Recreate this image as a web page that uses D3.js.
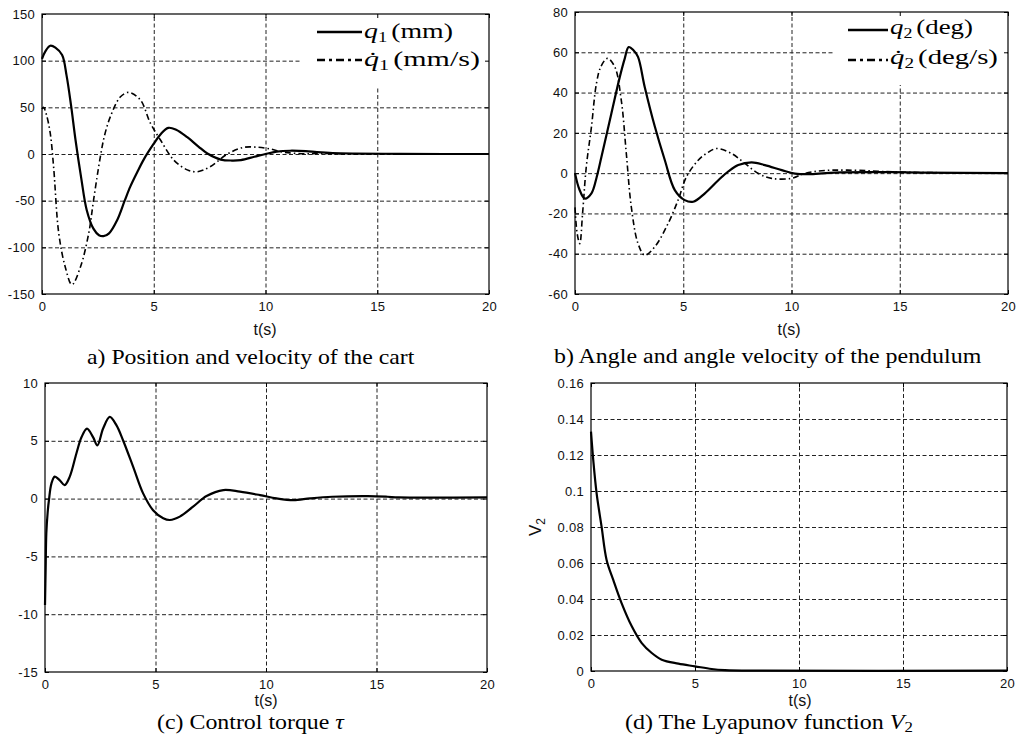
<!DOCTYPE html>
<html>
<head>
<meta charset="utf-8">
<script src="https://cdn.jsdelivr.net/npm/d3@7"></script>
<style>
  body { margin: 0; background: #fff; }
  svg { display: block; }
  .tick text { font-family: "Liberation Sans", Arial, Helvetica, sans-serif; font-size: 13px; fill: #111; letter-spacing: 0.3px; }
  .serif { font-family: "Liberation Serif", "Times New Roman", serif; fill: #000; }
  .sans { font-family: "Liberation Sans", Arial, Helvetica, sans-serif; fill: #111; }
</style>
</head>
<body>
<svg id="fig" width="1025" height="737"></svg>
<script>
// ---- data ----

// a) cart position q1 (mm)
const q1T = [0, 0.15, 0.37, 0.6, 0.9, 1.1, 1.3, 1.5, 1.75, 2.0, 2.3, 2.55, 2.75, 3.0, 3.36, 3.7, 3.95, 4.25, 4.55, 5.0, 5.3, 5.65, 6.0, 6.5, 7.0, 7.4, 8.0, 8.5, 8.9, 9.5, 10.0, 10.5, 11.1, 11.8, 12.3, 13, 14, 16, 18, 20];
const q1V = [102, 110, 116, 114, 106, 84, 52, 15, -25, -60, -80, -87, -88, -85, -71, -50, -35, -20, -6, 11, 21, 28, 26, 18, 8, 0.5, -6, -7, -6.5, -3, 0, 2.5, 3.5, 3, 2, 1, 0.5, 0.2, 0, 0];
// a) cart velocity dq1 (mm/s)
const dq1T = [0, 0.07, 0.2, 0.37, 0.52, 0.75, 1.04, 1.34, 1.72, 2.09, 2.31, 2.61, 2.8, 3.06, 3.5, 3.88, 4.4, 4.85, 5.3, 5.9, 6.5, 6.94, 7.5, 8.3, 9.0, 9.6, 10.2, 10.8, 11.6, 12.5, 14, 17, 20];
const dq1V = [48, 50, 42, 22, -14, -85, -121, -140, -121, -85, -49, -3, 20, 40, 61, 66, 58, 33, 15, -6.6, -17, -19, -14, 0, 7, 7.3, 5.5, 2, 0.3, 0.5, 0, 0, 0];

// b) pendulum angle q2 (deg)
const q2T = [0, 0.2, 0.45, 0.76, 1.0, 1.22, 1.68, 2.07, 2.3, 2.48, 2.7, 2.91, 3.22, 3.69, 4.15, 4.61, 5.07, 5.46, 6.0, 6.62, 7.1, 7.54, 8.16, 8.77, 9.55, 10.16, 10.9, 12, 14, 16, 20];
const q2V = [0, -8, -12.6, -10, -2, 8, 29.6, 47.8, 57, 62.6, 61, 57.7, 42.8, 23, 6.4, -8.4, -13.4, -14.2, -10, -3.5, 1, 4, 5.3, 4, 1.5, -0.2, -0.5, 0.3, 0.5, 0.3, 0];
// b) pendulum angle velocity dq2 (deg/s)
const dq2T = [0, 0.1, 0.22, 0.35, 0.52, 0.76, 0.99, 1.2, 1.5, 1.84, 2.14, 2.37, 2.6, 2.91, 3.22, 3.69, 4.3, 4.76, 5.15, 5.69, 6.1, 6.54, 7.23, 7.85, 8.47, 9.08, 10.0, 10.6, 11.4, 12.6, 15, 17, 20];
const dq2V = [-17, -30, -35, -20, 3, 23, 44.5, 53, 57, 52.7, 36, 9.8, -16.7, -34.9, -40.7, -36.5, -25, -13.4, -1.8, 6.4, 10, 12.2, 9.75, 4.8, -0.2, -2.6, -2.6, -0.2, 1.2, 1.5, 0.5, 0.2, 0];

// c) control torque tau
const tauT = [0, 0.03, 0.06, 0.12, 0.18, 0.29, 0.44, 0.66, 0.89, 1.12, 1.42, 1.65, 1.9, 2.18, 2.37, 2.63, 2.93, 3.23, 3.53, 3.99, 4.44, 4.89, 5.35, 5.65, 6.1, 6.7, 7.31, 8.07, 8.82, 9.73, 10.48, 11.24, 12, 13, 14.6, 15.5, 16, 20];
const tauV = [-9.2, -6, -3, -1.2, -0.1, 1.3, 1.9, 1.6, 1.17, 1.9, 3.9, 5.3, 6.06, 5.3, 4.6, 6.06, 7.07, 6.35, 5.05, 2.75, 0.45, -1, -1.7, -1.85, -1.56, -0.7, 0.22, 0.74, 0.6, 0.3, 0.02, -0.13, 0.02, 0.16, 0.22, 0.16, 0.1, 0.1];

// d) Lyapunov function V2
const v2T = [0, 0.11, 0.27, 0.51, 0.75, 1.07, 1.47, 1.96, 2.44, 2.92, 3.4, 4.2, 5.0, 5.8, 6.44, 8, 20];
const v2V = [0.133, 0.117, 0.0987, 0.0801, 0.0617, 0.0506, 0.0377, 0.0248, 0.0155, 0.0100, 0.0063, 0.0041, 0.0026, 0.0011, 0.0005, 0.0002, 0.0002];

// tick values
const timeTicks = [0, 5, 10, 15, 20];
const yTicksA = [-150, -100, -50, 0, 50, 100, 150];
const yTicksB = [-60, -40, -20, 0, 20, 40, 60, 80];
const yTicksC = [-15, -10, -5, 0, 5, 10];
const yTicksD = [0, 0.02, 0.04, 0.06, 0.08, 0.1, 0.12, 0.14, 0.16];

const svg = d3.select('#fig');

// stretch a text element horizontally so it spans x0..x1 (the reference is widened)
function fitWidth(text, x0, x1) {
  const bb = text.node().getBBox();
  const s = (x1 - x0) / bb.width;
  text.attr('transform', `translate(${x0},0) scale(${s},1) translate(${-bb.x},0)`);
}

function zip(t, v) { return t.map((d, i) => [d, v[i]]); }

const panels = [
  {
    box: [42, 489, 14, 294], yDomain: [-150, 150], yTicks: yTicksA,
    series: [{ data: zip(q1T, q1V), dash: null }, { data: zip(dq1T, dq1V), dash: 'dot' }],
    legend: { rect: [302, 488, 14, 86], lineX: [317, 362], textX: [364, 453, 480], rows: [32, 60], base: [38, 66], sub: '1', units: ['(mm)', '(mm/s)'] },
    tLabel: [265, 335], caption: { x: [87, 415], y: 364 }
  },
  {
    box: [575, 1008, 12, 294], yDomain: [-60, 80], yTicks: yTicksB,
    series: [{ data: zip(q2T, q2V), dash: null }, { data: zip(dq2T, dq2V), dash: 'dot' }],
    legend: { rect: [833, 1007, 12, 85], lineX: [848, 888], textX: [890, 973, 998], rows: [30, 60], base: [34, 64], sub: '2', units: ['(deg)', '(deg/s)'] },
    tLabel: [789, 335], caption: { x: [554, 982], y: 363 }
  },
  {
    box: [45, 487, 383, 672], yDomain: [-15, 10], yTicks: yTicksC,
    series: [{ data: zip(tauT, tauV), dash: null }],
    tLabel: [266, 706], caption: { x: [157, 345], y: 729 }
  },
  {
    box: [591, 1007, 383, 671], yDomain: [0, 0.16], yTicks: yTicksD,
    series: [{ data: zip(v2T, v2V), dash: null }],
    tLabel: [800, 706], caption: { x: [625, 913], y: 729 }, yLabel: [541, 527]
  }
];

panels.forEach((p, i) => drawPanel(p, i));

function drawPanel(p, idx) {
  const [left, right, top, bottom] = p.box;
  const w = right - left, h = bottom - top;
  const x = d3.scaleLinear().domain([0, 20]).range([left, right]);
  const y = d3.scaleLinear().domain(p.yDomain).range([bottom, top]);
  const g = svg.append('g');

  // dashed grid lines
  g.append('g').attr('transform', `translate(0,${bottom})`)
    .call(d3.axisBottom(x).tickValues(timeTicks.slice(1, -1)).tickSize(-h).tickFormat(''))
    .call(s => s.select('.domain').remove())
    .selectAll('line').attr('stroke', '#222').attr('stroke-dasharray', '4,2.5');
  g.append('g').attr('transform', `translate(${left},0)`)
    .call(d3.axisLeft(y).tickValues(p.yTicks.slice(1, -1)).tickSize(-w).tickFormat(''))
    .call(s => s.select('.domain').remove())
    .selectAll('line').attr('stroke', '#222').attr('stroke-dasharray', '4,2.5');

  // white legend box hides the grid behind it
  if (p.legend) {
    const r = p.legend.rect;
    g.append('rect').attr('x', r[0]).attr('y', r[2]).attr('width', r[1] - r[0]).attr('height', r[3] - r[2])
      .attr('fill', '#fff');
  }

  // curves
  const line = d3.line().x(d => x(d[0])).y(d => y(d[1])).curve(d3.curveCatmullRom.alpha(0.5));
  p.series.forEach(s => {
    g.append('path').datum(s.data).attr('d', line)
      .attr('fill', 'none').attr('stroke', '#000')
      .attr('stroke-width', s.dash ? 1.6 : 2.2)
      .attr('stroke-linejoin', 'round')
      .attr('stroke-dasharray', s.dash ? '6,3,1.5,3' : null);
  });

  // axes with inward ticks (MATLAB style)
  const fmt = d => String(+d.toFixed(2));
  g.append('g').attr('transform', `translate(0,${bottom})`)
    .call(d3.axisBottom(x).tickValues(timeTicks).tickSizeInner(-4).tickSizeOuter(0).tickPadding(8).tickFormat(fmt));
  g.append('g').attr('transform', `translate(${left},0)`)
    .call(d3.axisLeft(y).tickValues(p.yTicks).tickSizeInner(-4).tickSizeOuter(0).tickPadding(7).tickFormat(fmt));
  g.append('g').attr('transform', `translate(0,${top})`)
    .call(d3.axisTop(x).tickValues(timeTicks).tickSizeInner(-4).tickSizeOuter(0).tickFormat(''));
  g.append('g').attr('transform', `translate(${right},0)`)
    .call(d3.axisRight(y).tickValues(p.yTicks).tickSizeInner(-4).tickSizeOuter(0).tickFormat(''));
  g.selectAll('.domain').remove();
  g.selectAll('.tick line').filter(function () { return !this.getAttribute('stroke-dasharray'); })
    .attr('stroke', '#000');

  // frame
  g.append('rect').attr('x', left).attr('y', top).attr('width', w).attr('height', h)
    .attr('fill', 'none').attr('stroke', '#000').attr('stroke-width', 1.2);

  // legend entries
  if (p.legend) {
    const L = p.legend;
    L.rows.forEach((ry, k) => {
      g.append('line').attr('x1', L.lineX[0]).attr('x2', L.lineX[1]).attr('y1', ry).attr('y2', ry)
        .attr('stroke', '#000').attr('stroke-width', 2.4)
        .attr('stroke-dasharray', k ? '8,4,3,4' : null);
      const t = g.append('text').attr('class', 'serif').attr('y', L.base[k]).attr('font-size', 21);
      t.append('tspan').attr('font-style', 'italic').text(k ? 'q\u0307' : 'q');
      t.append('tspan').attr('font-size', 14).attr('dy', 4).text(L.sub);
      t.append('tspan').attr('dy', -4).attr('dx', 3).text(L.units[k]);
      fitWidth(t, L.textX[0], L.textX[k + 1]);
    });
  }

  // time axis label
  g.append('text').attr('class', 'sans').attr('x', p.tLabel[0]).attr('y', p.tLabel[1])
    .attr('text-anchor', 'middle').attr('font-size', 16).text('t(s)');

  // y label for the Lyapunov panel
  if (p.yLabel) {
    const yl = g.append('text').attr('class', 'sans').attr('font-size', 17)
      .attr('transform', `translate(${p.yLabel[0]},${p.yLabel[1]}) rotate(-90)`)
      .attr('text-anchor', 'middle');
    yl.append('tspan').text('V');
    yl.append('tspan').attr('font-size', 12).attr('dy', 4).text('2');
  }

  // caption
  const c = g.append('text').attr('class', 'serif').attr('y', p.caption.y).attr('font-size', 20);
  if (idx === 0) c.text('a) Position and velocity of the cart');
  if (idx === 1) c.text('b) Angle and angle velocity of the pendulum');
  if (idx === 2) {
    c.append('tspan').text('(c) Control torque ');
    c.append('tspan').attr('font-style', 'italic').text('\u03c4');
  }
  if (idx === 3) {
    c.append('tspan').text('(d) The Lyapunov function ');
    c.append('tspan').attr('font-style', 'italic').text('V');
    c.append('tspan').attr('font-size', 14).attr('dy', 3).text('2');
  }
  fitWidth(c, p.caption.x[0], p.caption.x[1]);
}
</script>
</body>
</html>
